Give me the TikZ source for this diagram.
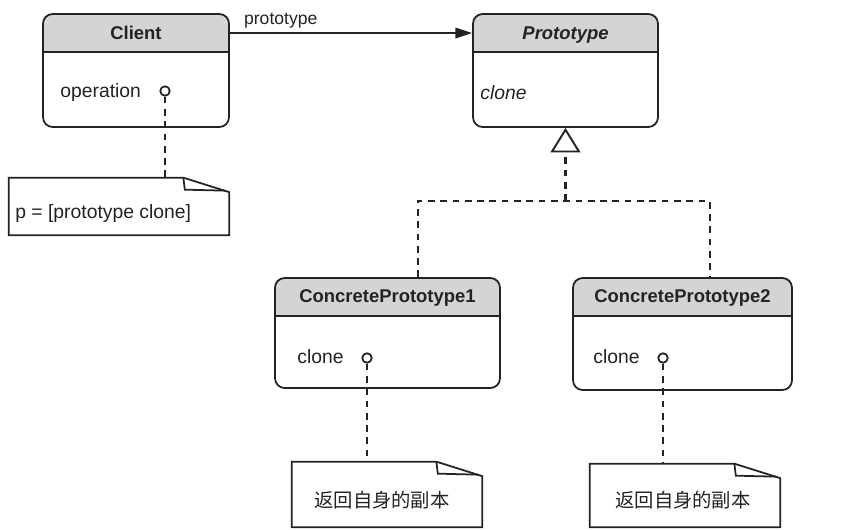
\documentclass[tikz,border=0pt]{standalone}
\usepackage{fontspec}
\setmainfont{Liberation Sans}
\newfontfamily\cjk{Noto Sans CJK SC}
\usetikzlibrary{arrows.meta, positioning, calc, backgrounds}
\definecolor{headgray}{RGB}{212, 212, 212}
\definecolor{inkgray}{RGB}{35, 35, 35}

\tikzset{
  umlline/.style={draw=inkgray, line width=1pt},
  classbox/.style={umlline, rounded corners=5.5pt, inner sep=0pt},
  classtitle/.style={font=\fontsize{10.5}{12}\selectfont\bfseries, text=inkgray, inner sep=0pt},
  abstracttitle/.style={font=\fontsize{10.5}{12}\selectfont\bfseries\itshape, text=inkgray, inner sep=0pt},
  member/.style={font=\fontsize{11}{13}\selectfont, text=inkgray, anchor=west, inner sep=0pt},
  port/.style={circle, umlline, fill=white, inner sep=0pt, minimum size=0.19cm},
  notebox/.style={inner sep=0pt},
  notetext/.style={font=\cjk\fontsize{11}{13}\selectfont, text=inkgray, inner sep=0pt},
  link/.style={draw=inkgray, line width=1.3pt, dash pattern=on 3.8pt off 3.2pt}
}

\begin{document}
\begin{tikzpicture}[x=0.02cm, y=-0.02cm]
  \useasboundingbox (0,0) rectangle (848,529);

  % class boxes
  \node[classbox, minimum width=3.72cm, minimum height=2.26cm] (client) at (136,70.5) {};
  \node[classbox, minimum width=3.7cm, minimum height=2.26cm] (proto) at (565.5,70.5) {};
  \node[classbox, minimum width=4.5cm, minimum height=2.2cm] (cp1) at (387.5,333) {};
  \node[classbox, minimum width=4.38cm, minimum height=2.24cm] (cp2) at (682.5,334) {};

  % grey name compartments
  \begin{scope}[on background layer]
    \foreach \c in {client, proto, cp1, cp2} {
      \begin{scope}
        \clip[rounded corners=5.5pt] (\c.south west) rectangle (\c.north east);
        \fill[headgray] (\c.north west) rectangle ($(\c.north east)+(0,-0.78cm)$);
      \end{scope}
      \draw[umlline] ($(\c.north west)+(0,-0.78cm)$) -- ($(\c.north east)+(0,-0.78cm)$);
    }
  \end{scope}

  % class names
  \node[classtitle] (clientname) at (136,33) {Client};
  \node[abstracttitle] (protoname) at (565.5,35) {Prototype};
  \node[classtitle] (cp1name) at (387.5,298) {ConcretePrototype1};
  \node[classtitle] (cp2name) at (682.5,298) {ConcretePrototype2};

  % operations
  \node[member] (operation) at (60,92) {operation};
  \node[port] (opport) at (165,91) {};
  \node[member, font=\fontsize{11}{13}\selectfont\itshape] (protoclone) at (480,93) {clone};
  \node[member] (cp1clone) at (297,357) {clone};
  \node[port] (cp1port) at (367,358) {};
  \node[member] (cp2clone) at (593,357) {clone};
  \node[port] (cp2port) at (663,358) {};

  % notes
  \node[notebox, minimum width=4.4cm, minimum height=1.14cm] (note1) at (119,206.5) {};
  \node[notebox, minimum width=3.8cm, minimum height=1.3cm] (note2) at (387,494.5) {};
  \node[notebox, minimum width=3.8cm, minimum height=1.26cm] (note3) at (685,495.5) {};
  \foreach \n in {note1, note2, note3} {
    \draw[umlline, fill=white] (\n.north west) -- ($(\n.north east)+(-0.92cm,0)$)
      -- ($(\n.north east)+(0,-0.29cm)$) -- (\n.south east) -- (\n.south west) -- cycle;
    \draw[umlline] ($(\n.north east)+(-0.92cm,0)$) -- ++(0.03cm,-0.24cm)
      -- ($(\n.north east)+(-0.08cm,-0.26cm)$);
  }
  \node[member] (note1text) at (15,213) {p = [prototype clone]};
  \node[notetext] (note2text) at (382,500) {返回自身的副本};
  \node[notetext] (note3text) at (683,500) {返回自身的副本};

  % association
  \draw[umlline, -{Triangle[length=9.5pt, width=6pt]}] (clientname -| client.east)
    -- node[pos=0.21, above=2pt, font=\fontsize{10}{12}\selectfont, text=inkgray, inner sep=0pt] (assoc) {prototype}
    (clientname -| proto.west);

  % inheritance
  \coordinate (fork) at (565.5,201);
  \coordinate (forkL) at (418,201);
  \coordinate (forkR) at (710,201);
  \draw[link, -{Triangle[open, length=14pt, width=17pt, fill=white, line width=1.1pt]}] (fork) -- (proto.south);
  \draw[link] (forkL |- cp1.north) -- (forkL) -- (forkR) -- (forkR |- cp2.north);

  % note links
  \draw[link] (opport) -- (opport |- note1.north);
  \draw[link] (cp1port) -- (cp1port |- note2.north);
  \draw[link] (cp2port) -- (cp2port |- note3.north);
\end{tikzpicture}
\end{document}
